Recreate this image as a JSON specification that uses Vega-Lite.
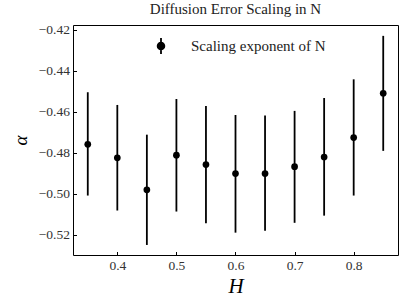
{
  "$schema": "https://vega.github.io/schema/vega-lite/v6.json",
  "width": 325,
  "height": 230,
  "autosize": {"type": "none"},
  "padding": {"left": 73, "top": 25, "right": 9, "bottom": 50},
  "background": "white",
  "config": {
    "view": {"stroke": "black", "strokeWidth": 1},
    "font": "Liberation Serif",
    "axis": {"grid": false, "domain": false, "tickColor": "black", "labelColor": "#333", "labelFont": "Liberation Serif", "labelFontSize": 13.5, "titleFont": "Liberation Serif", "titleColor": "black", "titleFontWeight": "normal"}
  },
  "title": {"text": "Diffusion Error Scaling in N", "font": "Liberation Serif", "fontSize": 15, "fontWeight": "normal", "color": "#222", "offset": 6, "anchor": "middle"},
  "data": {"values": [
    {"H": 0.35, "alpha": -0.4758, "lo": -0.5008, "hi": -0.4504, "series": "Scaling exponent of N"},
    {"H": 0.40, "alpha": -0.4824, "lo": -0.5081, "hi": -0.4566, "series": "Scaling exponent of N"},
    {"H": 0.45, "alpha": -0.4980, "lo": -0.5249, "hi": -0.4711, "series": "Scaling exponent of N"},
    {"H": 0.50, "alpha": -0.4811, "lo": -0.5086, "hi": -0.4537, "series": "Scaling exponent of N"},
    {"H": 0.55, "alpha": -0.4857, "lo": -0.5143, "hi": -0.4571, "series": "Scaling exponent of N"},
    {"H": 0.60, "alpha": -0.4901, "lo": -0.5189, "hi": -0.4615, "series": "Scaling exponent of N"},
    {"H": 0.65, "alpha": -0.4901, "lo": -0.5180, "hi": -0.4618, "series": "Scaling exponent of N"},
    {"H": 0.70, "alpha": -0.4867, "lo": -0.5141, "hi": -0.4595, "series": "Scaling exponent of N"},
    {"H": 0.75, "alpha": -0.4820, "lo": -0.5106, "hi": -0.4532, "series": "Scaling exponent of N"},
    {"H": 0.80, "alpha": -0.4725, "lo": -0.5008, "hi": -0.4441, "series": "Scaling exponent of N"},
    {"H": 0.85, "alpha": -0.4509, "lo": -0.4790, "hi": -0.4229, "series": "Scaling exponent of N"}
  ]},
  "encoding": {
    "x": {"field": "H", "type": "quantitative",
      "scale": {"domain": [0.325, 0.875], "nice": false, "zero": false},
      "axis": {"title": "H", "titleFontSize": 21, "titleFontStyle": "italic", "titlePadding": 3, "values": [0.4, 0.5, 0.6, 0.7, 0.8], "format": ".1f", "tickSize": -3.5, "labelPadding": 7}
    }
  },
  "layer": [
    {
      "mark": {"type": "rule", "color": "black", "strokeWidth": 1.8},
      "encoding": {
        "y": {"field": "lo", "type": "quantitative",
          "scale": {"domain": [-0.5298, -0.4176], "nice": false, "zero": false},
          "axis": {"title": "α", "titleFontSize": 19, "titleFontStyle": "italic", "titlePadding": 8, "values": [-0.52, -0.50, -0.48, -0.46, -0.44, -0.42], "format": ".2f", "labelExpr": "replace(datum.label, '-', '−')", "tickSize": -3.5, "labelPadding": 7}
        },
        "y2": {"field": "hi"}
      }
    },
    {
      "mark": {"type": "point", "filled": true, "opacity": 1, "size": 45, "shape": "circle"},
      "encoding": {
        "y": {"field": "alpha", "type": "quantitative"},
        "color": {"field": "series", "type": "nominal",
          "scale": {"range": ["black"]},
          "legend": {"title": null, "orient": "none", "legendX": 79, "legendY": 12, "padding": 0,
            "symbolType": "M-0.42,0A0.42,0.42 0 1,0 0.42,0A0.42,0.42 0 1,0 -0.42,0ZM0,-1L0,1",
            "symbolSize": 256, "symbolStrokeColor": "black", "symbolStrokeWidth": 1.8, "symbolFillColor": "black", "symbolOpacity": 1,
            "labelFont": "Liberation Serif", "labelFontSize": 15, "labelColor": "#222", "labelOffset": 21, "labelLimit": 300}
        }
      }
    }
  ]
}
